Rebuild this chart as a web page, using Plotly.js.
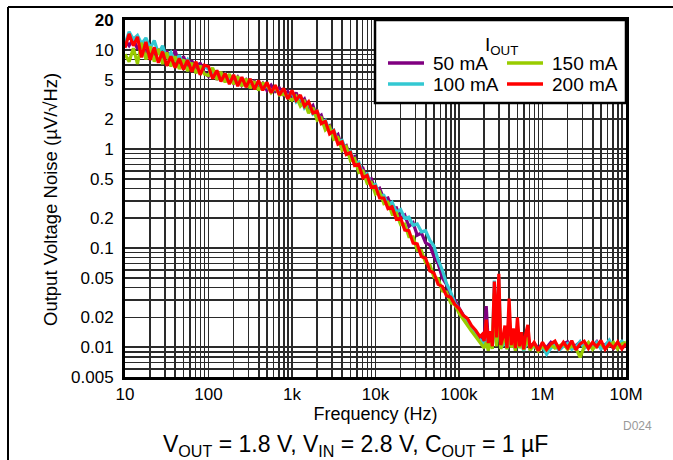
<!DOCTYPE html>
<html>
<head>
<meta charset="utf-8">
<script src="https://cdn.plot.ly/plotly-3.0.1.min.js"></script>
<style>html,body{margin:0;padding:0;background:#fff;}#chart{width:673px;height:460px;}</style>
</head>
<body>
<div id="chart"></div>
<script>
// Frequency (Hz)
var freq = [
 10, 11.2, 12.6, 14.1, 15.8, 17.8, 20, 22.4, 25.1, 28.2, 31.6, 35.5, 39.8, 44.7, 50.1, 56.2, 63.1, 70.8, 79.4, 89.1,
 100, 112, 126, 141, 158, 178, 200, 224, 251, 282, 316, 355, 398, 447, 501, 562, 631, 708, 794, 891,
 1000, 1120, 1260, 1410, 1580, 1780, 2000, 2240, 2510, 2820, 3160, 3550, 3980, 4470, 5010, 5620, 6310, 7080, 7940, 8910,
 10000, 11200, 12600, 14100, 15800, 17800, 20000, 22400, 25100, 28200, 31600, 35500, 39800, 44700, 50100, 56200, 63100, 70800, 79400, 89100,
 100000, 112000, 126000, 141000, 158000, 178000, 190000, 200000, 212000, 224000, 237000, 251000, 265000, 282000, 300000, 316000,
 335000, 355000, 376000, 398000, 422000, 447000, 473000, 501000, 530000, 562000, 595000, 631000, 668000, 708000, 794000, 891000,
 1000000, 1120000, 1260000, 1410000, 1580000, 1780000, 2000000, 2240000, 2510000, 2820000, 3160000, 3550000, 3980000, 4470000,
 5010000, 5620000, 6310000, 7080000, 7940000, 8910000, 10000000
];

// Output voltage noise (uV/rtHz)
var noise50mA = [
 12.5, 11.0, 13.0, 10.2, 11.8, 9.0, 10.5, 8.4, 10.2, 7.8, 9.8, 7.2, 9.9, 7.0, 8.6, 6.6, 7.8, 6.2, 7.4, 5.9,
 5.4, 6.4, 5.0, 6.0, 4.8, 5.6, 4.6, 5.3, 4.4, 5.0, 4.3, 4.8, 4.1, 4.6, 3.9, 4.4, 3.8, 4.1, 3.5, 3.8,
 3.2, 3.7, 2.9, 3.2, 2.5, 2.75, 2.05, 2.2, 1.62, 1.72, 1.3, 1.4, 1.02, 1.08, 0.8, 0.84, 0.62, 0.64, 0.48, 0.5,
 0.38, 0.4, 0.31, 0.32, 0.25, 0.255, 0.2, 0.215, 0.165, 0.18, 0.135, 0.142, 0.113, 0.107, 0.082, 0.07, 0.05, 0.043, 0.033, 0.03,
 0.025, 0.021, 0.018, 0.0158, 0.0142, 0.0125, 0.0118, 0.0122, 0.026, 0.0112, 0.0128, 0.0105, 0.018, 0.0118, 0.03, 0.0108,
 0.0118, 0.0128, 0.0102, 0.018, 0.0108, 0.0125, 0.0099, 0.0145, 0.0106, 0.0118, 0.0098, 0.0112, 0.0128, 0.0102, 0.0109, 0.0098,
 0.0106, 0.0099, 0.0112, 0.0103, 0.0099, 0.0108, 0.0113, 0.0097, 0.0105, 0.0112, 0.0099, 0.0108, 0.0103, 0.0114,
 0.0098, 0.0106, 0.0111, 0.0097, 0.0105, 0.0101, 0.0104
];
var noise100mA = [
 11.5, 15.2, 12.8, 14.0, 11.5, 13.2, 10.4, 12.4, 9.2, 11.0, 8.2, 9.4, 7.6, 8.8, 7.0, 8.0, 6.6, 7.2, 6.3, 6.8,
 6.4, 5.6, 6.0, 5.2, 5.7, 4.9, 5.4, 4.7, 5.1, 4.5, 4.8, 4.3, 4.6, 4.1, 4.3, 3.9, 4.1, 3.7, 3.8, 3.4,
 3.7, 3.0, 3.4, 2.6, 2.9, 2.25, 2.4, 1.85, 1.95, 1.5, 1.55, 1.2, 1.22, 0.95, 0.95, 0.72, 0.74, 0.55, 0.56, 0.43,
 0.44, 0.34, 0.34, 0.27, 0.29, 0.23, 0.245, 0.2, 0.205, 0.17, 0.175, 0.146, 0.15, 0.12, 0.105, 0.076, 0.06, 0.044, 0.036, 0.028,
 0.024, 0.021, 0.0178, 0.0152, 0.0135, 0.0118, 0.0112, 0.0106, 0.0121, 0.0098, 0.011, 0.0102, 0.047, 0.0112, 0.05, 0.0098,
 0.0105, 0.0115, 0.0096, 0.0128, 0.0101, 0.0112, 0.0095, 0.0125, 0.0099, 0.0108, 0.0092, 0.0104, 0.0118, 0.0096, 0.0102, 0.0094,
 0.0101, 0.0085, 0.0098, 0.0105, 0.0093, 0.0102, 0.0109, 0.0095, 0.0101, 0.0114, 0.0097, 0.0105, 0.0099, 0.0112,
 0.0096, 0.0104, 0.0118, 0.0099, 0.0106, 0.0115, 0.0103
];
var noise150mA = [
 9.0, 7.6, 10.4, 7.2, 11.8, 8.0, 10.8, 7.6, 10.2, 7.2, 9.4, 6.8, 8.6, 6.4, 8.0, 6.1, 7.4, 5.8, 6.9, 5.7,
 5.5, 6.6, 5.0, 6.0, 4.7, 5.7, 4.5, 5.4, 4.3, 5.1, 4.1, 4.8, 3.9, 4.6, 4.4, 3.7, 4.2, 3.5, 3.6, 3.3,
 3.1, 3.4, 2.7, 3.0, 2.3, 2.6, 1.95, 2.05, 1.55, 1.68, 1.25, 1.3, 0.97, 1.05, 0.76, 0.8, 0.58, 0.6, 0.45, 0.46,
 0.35, 0.37, 0.28, 0.29, 0.22, 0.225, 0.172, 0.175, 0.13, 0.13, 0.095, 0.094, 0.071, 0.068, 0.051, 0.049, 0.037, 0.036, 0.028, 0.027,
 0.022, 0.019, 0.0165, 0.0145, 0.0128, 0.0112, 0.0105, 0.0098, 0.0112, 0.0092, 0.0118, 0.0096, 0.035, 0.0102, 0.04, 0.0096,
 0.0112, 0.0138, 0.0095, 0.022, 0.0099, 0.0128, 0.0092, 0.0155, 0.0098, 0.0118, 0.0094, 0.0112, 0.0125, 0.0093, 0.0106, 0.0091,
 0.0103, 0.0094, 0.0106, 0.0098, 0.0102, 0.0108, 0.0095, 0.0103, 0.0098, 0.0079, 0.0101, 0.0112, 0.0095, 0.0105,
 0.0109, 0.0097, 0.0104, 0.0112, 0.0096, 0.0108, 0.0112
];
var noise200mA = [
 10.5, 14.5, 11.0, 13.5, 8.4, 12.0, 7.9, 10.6, 7.4, 9.6, 6.9, 8.6, 6.6, 8.2, 6.3, 7.9, 6.0, 7.6, 5.6, 7.0,
 6.8, 5.1, 6.2, 4.8, 5.8, 4.5, 5.6, 4.3, 5.3, 4.2, 5.1, 4.0, 4.9, 3.9, 4.7, 3.7, 4.4, 3.5, 4.1, 3.2,
 3.9, 3.1, 3.5, 2.7, 3.0, 2.3, 2.4, 1.8, 1.9, 1.42, 1.52, 1.12, 1.18, 0.88, 0.92, 0.68, 0.7, 0.51, 0.54, 0.41,
 0.42, 0.32, 0.32, 0.25, 0.26, 0.195, 0.2, 0.152, 0.15, 0.112, 0.11, 0.082, 0.079, 0.059, 0.056, 0.043, 0.041, 0.033, 0.032, 0.027,
 0.0245, 0.021, 0.0195, 0.0165, 0.0148, 0.0128, 0.0135, 0.0115, 0.019, 0.011, 0.0145, 0.0102, 0.046, 0.0125, 0.055, 0.0105,
 0.0125, 0.0165, 0.0098, 0.031, 0.0105, 0.0155, 0.0098, 0.02, 0.0102, 0.0142, 0.0095, 0.0138, 0.0168, 0.0098, 0.0112, 0.0092,
 0.0112, 0.0095, 0.0108, 0.0115, 0.0096, 0.0112, 0.0098, 0.0116, 0.0094, 0.0108, 0.0115, 0.0097, 0.0112, 0.0101,
 0.0117, 0.0095, 0.0109, 0.0098, 0.0113, 0.0096, 0.0108
];

var seriesNames = ['50 mA', '100 mA', '150 mA', '200 mA'];
var seriesColors = ['#800080', '#33C8D2', '#99CC00', '#FF0000'];
var seriesData = [noise50mA, noise100mA, noise150mA, noise200mA];

var xTickVals = [10, 100, 1000, 10000, 100000, 1000000, 10000000];
var xTickText = ['10', '100', '1k', '10k', '100k', '1M', '10M'];
var yTickVals = [0.005, 0.01, 0.02, 0.05, 0.1, 0.2, 0.5, 1, 2, 5, 10, 20];
var yTickText = ['0.005', '0.01', '0.02', '0.05', '0.1', '0.2', '0.5', '1', '2', '5', '10', '<b>20</b>'];

var traces = seriesData.map(function (d, i) {
  return {
    x: freq, y: d, type: 'scatter', mode: 'lines',
    name: seriesNames[i], showlegend: false,
    line: {color: seriesColors[i], width: 3.2}
  };
});

var FONT = 'Liberation Sans, Arial, sans-serif';
var gridC = '#2a2a2a';

// paper coordinate helpers (plot area: 125..626 x, 20..377 y)
var L = 125, R = 626, T = 20, B = 377;
function px(x) { return (x - L) / (R - L); }
function py(y) { return (B - y) / (B - T); }

function note(text, x, y, size, extra) {
  var a = {text: text, xref: 'paper', yref: 'paper', x: px(x), y: py(y),
    xanchor: 'center', yanchor: 'middle', showarrow: false,
    font: {family: FONT, size: size, color: '#000'}};
  for (var k in (extra || {})) a[k] = extra[k];
  return a;
}

var annotations = [
  note('Output Voltage Noise (µV/√Hz)', 50, 200, 18.5, {textangle: -90}),
  note('D024', 637, 426, 12, {font: {family: FONT, size: 12, color: '#999'}}),
  note('V<sub>OUT</sub> = 1.8 V, V<sub>IN</sub> = 2.8 V, C<sub>OUT</sub> = 1 µF', 355, 462, 23, {yanchor: 'bottom'}),
  note('I<sub>OUT</sub>', 501, 46, 19)
];
var shapes = [
  {type: 'line', xref: 'paper', yref: 'paper', x0: px(8), x1: px(673), y0: py(7), y1: py(7),
   line: {color: '#000', width: 2}},
  {type: 'line', xref: 'paper', yref: 'paper', x0: px(8), x1: px(8), y0: py(7), y1: py(460),
   line: {color: '#000', width: 2}},
  {type: 'rect', xref: 'paper', yref: 'paper', layer: 'above',
   x0: px(375), x1: px(626), y0: py(103), y1: py(20),
   fillcolor: '#fff', line: {color: '#000', width: 2.5}}
];
// legend entries: column/row placement
var legCols = [388, 388, 507, 507];
var legRows = [63, 84, 63, 84];
seriesNames.forEach(function (n, i) {
  shapes.push({type: 'line', xref: 'paper', yref: 'paper', layer: 'above',
    x0: px(legCols[i]), x1: px(legCols[i] + 36), y0: py(legRows[i]), y1: py(legRows[i]),
    line: {color: seriesColors[i], width: 3.5}});
  annotations.push(note(n, legCols[i] + 43, legRows[i], 19, {xanchor: 'left'}));
});

var layout = {
  width: 673, height: 460,
  margin: {l: L, r: 673 - R, t: T, b: 460 - B},
  paper_bgcolor: '#fff', plot_bgcolor: '#fff',
  font: {family: FONT, size: 17, color: '#000'},
  showlegend: false,
  xaxis: {
    type: 'log', range: [1, 7],
    tickmode: 'array', tickvals: xTickVals, ticktext: xTickText,
    showgrid: true, gridcolor: gridC, gridwidth: 1.6,
    minor: {dtick: 'D1', showgrid: true, gridcolor: gridC, gridwidth: 1.6},
    showline: true, mirror: true, linecolor: '#000', linewidth: 3,
    ticks: '', zeroline: false,
    tickfont: {family: FONT, size: 17, color: '#000'},
    title: {text: 'Frequency (Hz)', font: {family: FONT, size: 18, color: '#000'}, standoff: 3}
  },
  yaxis: {
    type: 'log', range: [Math.log10(0.005), Math.log10(20)],
    tickmode: 'array', tickvals: yTickVals, ticktext: yTickText,
    showgrid: true, gridcolor: gridC, gridwidth: 1.6,
    minor: {dtick: 'D1', showgrid: true, gridcolor: gridC, gridwidth: 1.6},
    showline: true, mirror: true, linecolor: '#000', linewidth: 3,
    ticks: '', zeroline: false, ticklabelstandoff: 5,
    tickfont: {family: FONT, size: 17, color: '#000'}
  },
  annotations: annotations,
  shapes: shapes
};

Plotly.newPlot('chart', traces, layout, {displayModeBar: false, staticPlot: true});
</script>
</body>
</html>
